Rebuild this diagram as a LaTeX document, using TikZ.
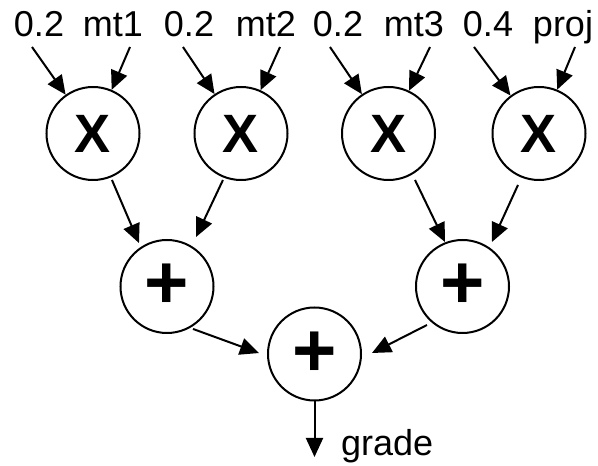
\documentclass[tikz,border=0pt]{standalone}
\usepackage{fontspec}
\setmainfont{Liberation Sans}
\usetikzlibrary{arrows.meta}
\begin{document}
\begin{tikzpicture}[x=1pt,y=1pt,
  lbl/.style={inner sep=0pt,anchor=base,font=\fontsize{36}{40}\selectfont},
  opx/.style={circle,draw,line width=2pt,minimum size=93pt,inner sep=0pt,
    font=\bfseries\fontsize{54}{58}\selectfont},
  opp/.style={circle,draw,line width=2pt,minimum size=93pt,inner sep=0pt,
    font=\bfseries\fontsize{76}{78}\selectfont},
  arr/.style={line width=2pt,-{Triangle[length=19pt,width=17pt]}}]
\useasboundingbox (0,0) rectangle (598,466);
% top labels
\node[lbl] (l1a) at (39,429) {0.2};
\node[lbl] (l1b) at (113,429) {mt1};
\node[lbl] (l2a) at (189,429) {0.2};
\node[lbl] (l2b) at (266,429) {mt2};
\node[lbl] (l3a) at (338,429) {0.2};
\node[lbl] (l3b) at (414,429) {mt3};
\node[lbl] (l4a) at (488,429) {0.4};
\node[lbl] (l4b) at (563,429) {proj};
% arrow starts under labels
\coordinate (s1a) at (32,419);
\coordinate (s1b) at (130,419);
\coordinate (s2a) at (183,419);
\coordinate (s2b) at (280,419);
\coordinate (s3a) at (330,419);
\coordinate (s3b) at (430,419);
\coordinate (s4a) at (474,419);
\coordinate (s4b) at (575,419);
% multipliers
\node[opx] (m1) at (93,332.5) {X};
\node[opx] (m2) at (241,332.5) {X};
\node[opx] (m3) at (388.5,332.5) {X};
\node[opx] (m4) at (539,332.5) {X};
% adders
\node[opp] (p1) at (167,179.5) {+};
\node[opp] (p2) at (462.5,179.5) {+};
\node[opp] (pb) at (314.5,112) {+};
% output
\node[lbl,anchor=base west] (grade) at (341,10) {grade};
\coordinate (out) at (314.5,9);
% input arrows
\draw[arr] (s1a) -- (m1);
\draw[arr] (s1b) -- (m1);
\draw[arr] (s2a) -- (m2);
\draw[arr] (s2b) -- (m2);
\draw[arr] (s3a) -- (m3);
\draw[arr] (s3b) -- (m3);
\draw[arr] (s4a) -- (m4);
\draw[arr] (s4b) -- (m4);
% multiplier to adder arrows
\draw[arr] ([shift={(292.2:50.2)}]m1.center) -- ([shift={(122.8:51.7)}]p1.center);
\draw[arr] ([shift={(248.8:49.9)}]m2.center) -- ([shift={(59.6:57.4)}]p1.center);
\draw[arr] ([shift={(299.7:53.5)}]m3.center) -- ([shift={(111.5:47.8)}]p2.center);
\draw[arr] ([shift={(247.8:55.6)}]m4.center) -- ([shift={(56.5:53.4)}]p2.center);
% adders to final adder
\draw[arr] ([shift={(301.5:49.8)}]p1.center) -- ([shift={(179:55.5)}]pb.center);
\draw[arr] ([shift={(227.3:52.4)}]p2.center) -- ([shift={(1:57.5)}]pb.center);
% output arrow
\draw[arr] (pb.south) -- (out);
\end{tikzpicture}
\end{document}
